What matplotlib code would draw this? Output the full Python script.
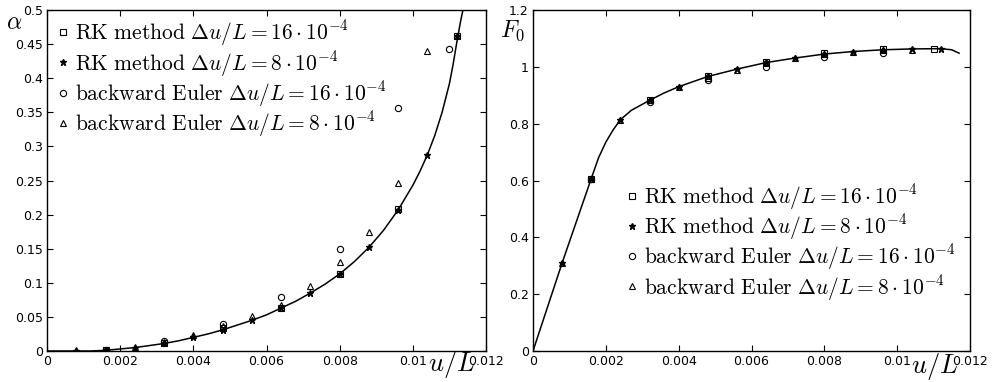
import matplotlib
matplotlib.use('Agg')
import matplotlib.pyplot as plt

plt.rcParams['mathtext.fontset'] = 'cm'
plt.rcParams['font.family'] = 'DejaVu Sans'

# left panel: alpha vs u/L
curve_u_a = [0, 0.0012, 0.0016, 0.002, 0.0024, 0.0028, 0.0032, 0.0036, 0.004, 0.0044, 0.0048,
             0.0052, 0.0056, 0.006, 0.0064, 0.0068, 0.0072, 0.0076, 0.008, 0.0084, 0.0088,
             0.0092, 0.0096, 0.01, 0.0102, 0.0104, 0.0106, 0.0108, 0.011, 0.0111, 0.0112,
             0.0113, 0.01137]
curve_a = [0, 0, 0.001, 0.003, 0.005, 0.008, 0.011, 0.015, 0.020, 0.025, 0.031,
           0.038, 0.045, 0.053, 0.063, 0.073, 0.085, 0.098, 0.113, 0.131, 0.152,
           0.177, 0.207, 0.243, 0.264, 0.288, 0.316, 0.350, 0.392, 0.420, 0.452,
           0.482, 0.5]

u_rk8 = [0.0008, 0.0016, 0.0024, 0.0032, 0.004, 0.0048, 0.0056, 0.0064, 0.0072, 0.008,
         0.0088, 0.0096, 0.0104, 0.0112]
a_rk8 = [0.0, 0.001, 0.005, 0.011, 0.020, 0.031, 0.045, 0.063, 0.085, 0.113,
         0.152, 0.207, 0.288, 0.462]
u_rk16 = [0.0016, 0.0032, 0.0048, 0.0064, 0.008, 0.0096, 0.0112]
a_rk16 = [0.001, 0.012, 0.033, 0.063, 0.113, 0.208, 0.462]
u_be16 = [0.0016, 0.0032, 0.0048, 0.0064, 0.008, 0.0096, 0.011]
a_be16 = [0.002, 0.015, 0.040, 0.079, 0.149, 0.357, 0.443]
u_be8 = [0.0008, 0.0016, 0.0024, 0.0032, 0.004, 0.0048, 0.0056, 0.0064, 0.0072, 0.008,
         0.0088, 0.0096, 0.0104]
a_be8 = [0.001, 0.002, 0.006, 0.013, 0.023, 0.036, 0.051, 0.068, 0.095, 0.130,
         0.175, 0.247, 0.44]

# right panel: F0 vs u/L
curve_u_f = [0, 0.0008, 0.0016, 0.0018, 0.002, 0.0022, 0.0024, 0.0027, 0.0032, 0.0036, 0.004,
             0.0048, 0.0056, 0.0064, 0.0072, 0.008, 0.0088, 0.0096, 0.0104, 0.0112,
             0.0115, 0.0117]
curve_f = [0, 0.31, 0.607, 0.68, 0.735, 0.778, 0.814, 0.847, 0.882, 0.908, 0.930,
           0.966, 0.992, 1.015, 1.031, 1.045, 1.054, 1.060, 1.063, 1.064,
           1.060, 1.048]
f_rk8 = [0.31, 0.607, 0.814, 0.884, 0.930, 0.968, 0.992, 1.018, 1.031, 1.046,
         1.053, 1.060, 1.062, 1.064]
uf_rk16 = [0.0016, 0.0032, 0.0048, 0.0064, 0.008, 0.0096, 0.011]
f_rk16 = [0.607, 0.884, 0.968, 1.018, 1.048, 1.062, 1.064]
uf_be16 = [0.0016, 0.0032, 0.0048, 0.0064, 0.008, 0.0096]
f_be16 = [0.607, 0.877, 0.953, 1.0, 1.035, 1.048]
f_be8 = [0.31, 0.607, 0.814, 0.884, 0.930, 0.962, 0.990, 1.012, 1.030, 1.045,
         1.053, 1.058, 1.060]

labels = [r'$\mathrm{RK\ method}\ \Delta u/L = 16\cdot 10^{-4}$',
          r'$\mathrm{RK\ method}\ \Delta u/L = 8\cdot 10^{-4}$',
          r'$\mathrm{backward\ Euler}\ \Delta u/L = 16\cdot 10^{-4}$',
          r'$\mathrm{backward\ Euler}\ \Delta u/L = 8\cdot 10^{-4}$']

x_ticks = [0, 0.002, 0.004, 0.006, 0.008, 0.01, 0.012]
x_ticklabels = ['0', '0.002', '0.004', '0.006', '0.008', '0.01', '0.012']
ya_ticks = [0, 0.05, 0.1, 0.15, 0.2, 0.25, 0.3, 0.35, 0.4, 0.45, 0.5]
ya_ticklabels = ['0', '0.05', '0.1', '0.15', '0.2', '0.25', '0.3', '0.35', '0.4', '0.45', '0.5']
yf_ticks = [0, 0.2, 0.4, 0.6, 0.8, 1, 1.2]
yf_ticklabels = ['0', '0.2', '0.4', '0.6', '0.8', '1', '1.2']

fig = plt.figure(figsize=(9.97, 3.82), dpi=100)
ax1 = fig.add_axes([47/997, 31/382, 439/997, 341/382])
ax2 = fig.add_axes([533/997, 31/382, 437/997, 341/382])

def draw(ax, cu, cy, u1, y1, u2, y2, u3, y3, u4, y4):
    ax.plot(cu, cy, color='black', lw=1.1)
    h1, = ax.plot(u1, y1, 's', ms=4, mfc='none', mec='black', mew=0.8, ls='none')
    h2, = ax.plot(u2, y2, '*', ms=5, color='black', ls='none')
    h3, = ax.plot(u3, y3, 'o', ms=4.5, mfc='none', mec='black', mew=0.8, ls='none')
    h4, = ax.plot(u4, y4, '^', ms=4.5, mfc='none', mec='black', mew=0.8, ls='none')
    return [h1, h2, h3, h4]

hs1 = draw(ax1, curve_u_a, curve_a, u_rk16, a_rk16, u_rk8, a_rk8,
           u_be16, a_be16, u_be8, a_be8)
hs2 = draw(ax2, curve_u_f, curve_f, uf_rk16, f_rk16, u_rk8, f_rk8,
           uf_be16, f_be16, u_rk8[:13], f_be8)

for ax in (ax1, ax2):
    ax.set_xlim(0, 0.012)
    ax.set_xticks(x_ticks)
    ax.set_xticklabels(x_ticklabels)
    ax.tick_params(direction='in', top=True, right=True, length=4, width=0.8,
                   labelsize=9, pad=3)
    for s in ax.spines.values():
        s.set_linewidth(1.0)

ax1.set_ylim(0, 0.5)
ax1.set_yticks(ya_ticks)
ax1.set_yticklabels(ya_ticklabels)
ax2.set_ylim(0, 1.2)
ax2.set_yticks(yf_ticks)
ax2.set_yticklabels(yf_ticklabels)

leg_kw = dict(frameon=False, fontsize=15.5, handlelength=0.7, handletextpad=0.2,
              labelspacing=0.02, borderaxespad=0.1, borderpad=0.3)
ax1.legend(hs1, labels, loc='upper left', bbox_to_anchor=(0.0, 1.0), **leg_kw)
ax2.legend(hs2, labels, loc='upper left', bbox_to_anchor=(0.19, 0.52), **leg_kw)

fig.text(14/997, 1 - 22/382, r'$\alpha$', fontsize=17, ha='center', va='center')
fig.text(452/997, 1 - 364/382, r'$u/L$', fontsize=19, ha='center', va='center')
fig.text(935/997, 1 - 367/382, r'$u/L$', fontsize=19, ha='center', va='center')
fig.text(512/997, 1 - 31/382, r'$F_0$', fontsize=17, ha='center', va='center')

fig.savefig('out.png', dpi=100)
